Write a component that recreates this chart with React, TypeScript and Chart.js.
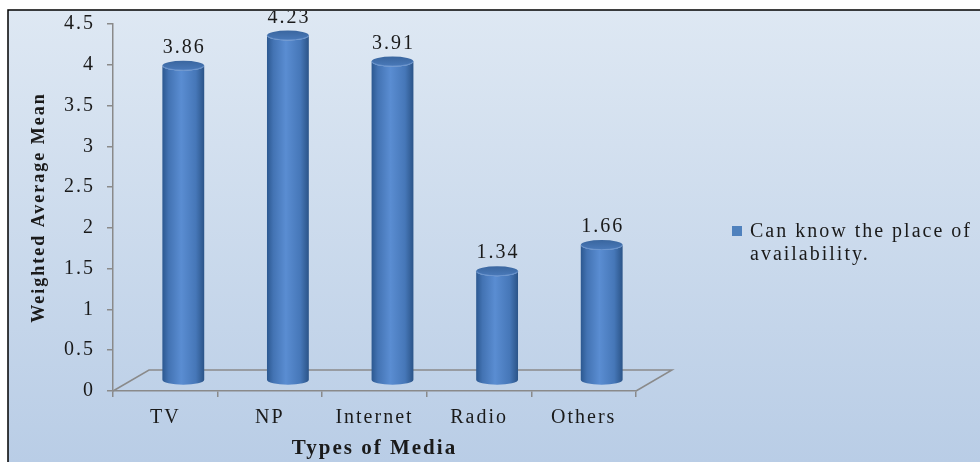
import { useEffect, useRef } from "react";
import { Chart, registerables } from "chart.js";

Chart.register(...registerables);

const categories = ["TV", "NP", "Internet", "Radio", "Others"];
const weightedMeans = [3.86, 4.23, 3.91, 1.34, 1.66];
const valueLabels = ["3.86", "4.23", "3.91", "1.34", "1.66"];
const legendLines = ["Can know the place of", "availability."];
const yTickLabels = ["0", "0.5", "1", "1.5", "2", "2.5", "3", "3.5", "4", "4.5"];
const xTitle = "Types of Media";
const yTitle = "Weighted Average Mean";

const SERIF = "'Liberation Serif', 'Times New Roman', serif";
const AXIS_GRAY = "#8a8a8a";
const TEXT = "#1a1a1a";
const DEPTH_X = 36;
const DEPTH_Y = 21;

const cylinderPlugin = {
  id: "cylinder3d",
  beforeDraw(chart: any) {
    const { ctx, width, height } = chart;
    ctx.save();
    const g = ctx.createLinearGradient(0, 10, 0, height);
    g.addColorStop(0, "#dee8f3");
    g.addColorStop(1, "#b9cde6");
    ctx.fillStyle = g;
    ctx.fillRect(8, 10, width - 8, height - 10);
    ctx.strokeStyle = "#000";
    ctx.lineWidth = 1.5;
    ctx.beginPath();
    ctx.moveTo(8, height);
    ctx.lineTo(8, 10);
    ctx.lineTo(width, 10);
    ctx.stroke();
    ctx.restore();
    ctx.save();
    ctx.beginPath();
    ctx.rect(9, 11, width - 9, height - 11);
    ctx.clip();
    ctx.letterSpacing = "2px";
  },
  afterDraw(chart: any) {
    chart.ctx.restore();
  },
  beforeDatasetsDraw(chart: any) {
    const { ctx, chartArea } = chart;
    const { left, right, bottom } = chartArea;
    ctx.save();
    ctx.strokeStyle = AXIS_GRAY;
    ctx.lineWidth = 1.5;
    ctx.beginPath();
    ctx.moveTo(left, bottom);
    ctx.lineTo(left + DEPTH_X, bottom - DEPTH_Y);
    ctx.lineTo(right + DEPTH_X, bottom - DEPTH_Y);
    ctx.lineTo(right, bottom);
    ctx.stroke();
    ctx.restore();
  },
  afterDatasetsDraw(chart: any) {
    const { ctx } = chart;
    const meta = chart.getDatasetMeta(0);
    const dx = DEPTH_X / 2;
    const dy = DEPTH_Y / 2;
    const ry = 5;
    meta.data.forEach((bar: any, i: number) => {
      const cx = bar.x + dx;
      const w = bar.width / 2;
      const ty = bar.y - dy;
      const by = bar.base - dy;
      ctx.save();
      const bg = ctx.createLinearGradient(cx - w, 0, cx + w, 0);
      bg.addColorStop(0, "#2c5890");
      bg.addColorStop(0.15, "#4373b3");
      bg.addColorStop(0.45, "#5a8dd2");
      bg.addColorStop(0.8, "#4677b8");
      bg.addColorStop(1, "#2b5488");
      ctx.fillStyle = bg;
      ctx.beginPath();
      ctx.moveTo(cx - w, ty);
      ctx.lineTo(cx - w, by);
      ctx.ellipse(cx, by, w, ry, 0, Math.PI, 0, true);
      ctx.lineTo(cx + w, ty);
      ctx.ellipse(cx, ty, w, ry, 0, 0, Math.PI, false);
      ctx.closePath();
      ctx.fill();
      const tg = ctx.createLinearGradient(0, ty - ry, 0, ty + ry);
      tg.addColorStop(0, "#3a669f");
      tg.addColorStop(1, "#4a7aba");
      ctx.fillStyle = tg;
      ctx.beginPath();
      ctx.ellipse(cx, ty, w, ry, 0, 0, Math.PI * 2);
      ctx.fill();
      ctx.strokeStyle = "rgba(120,160,215,0.7)";
      ctx.lineWidth = 1;
      ctx.beginPath();
      ctx.ellipse(cx, ty, w - 0.5, ry - 0.5, 0, 0, Math.PI, false);
      ctx.stroke();
      ctx.fillStyle = TEXT;
      ctx.font = `20px ${SERIF}`;
      ctx.textAlign = "center";
      ctx.textBaseline = "middle";
      ctx.fillText(valueLabels[i], cx + 1, ty - 18);
      ctx.restore();
    });
    ctx.save();
    ctx.fillStyle = "#4f81bd";
    ctx.fillRect(732, 226, 10, 10);
    ctx.fillStyle = TEXT;
    ctx.font = `20px ${SERIF}`;
    ctx.textAlign = "left";
    ctx.textBaseline = "middle";
    legendLines.forEach((t, k) => ctx.fillText(t, 750, 232 + k * 23));
    ctx.restore();
  },
};

export default function App() {
  const ref = useRef<HTMLCanvasElement | null>(null);
  useEffect(() => {
    if (!ref.current) return;
    const chart = new Chart(ref.current, {
      type: "bar",
      data: {
        labels: categories,
        datasets: [
          {
            label: legendLines.join(" "),
            data: weightedMeans,
            backgroundColor: "rgba(0,0,0,0)",
            borderWidth: 0,
            categoryPercentage: 0.8,
            barPercentage: 0.5,
          },
        ],
      },
      options: {
        animation: false,
        responsive: false,
        devicePixelRatio: 1,
        layout: { padding: { left: 0, top: 24, right: 344, bottom: 0 } },
        plugins: { legend: { display: false }, tooltip: { enabled: false } },
        scales: {
          x: {
            afterFit: (s: any) => {
              s.height = 71;
            },
            grid: {
              offset: true,
              drawOnChartArea: false,
              drawTicks: true,
              tickLength: 6,
              color: AXIS_GRAY,
              lineWidth: 1.5,
            },
            border: { display: true, color: AXIS_GRAY, width: 1.5 },
            ticks: {
              color: TEXT,
              font: { family: SERIF, size: 20 },
              padding: 9,
              maxRotation: 0,
            },
            title: {
              display: true,
              text: xTitle,
              color: TEXT,
              font: { family: SERIF, size: 21, weight: "bold" },
              padding: { top: 0, bottom: 1 },
            },
          },
          y: {
            min: 0,
            max: 4.5,
            afterFit: (s: any) => {
              s.width = 113;
            },
            afterBuildTicks: (s: any) => {
              s.ticks = yTickLabels.map((t) => ({ value: parseFloat(t) }));
            },
            grid: {
              drawOnChartArea: false,
              drawTicks: true,
              tickLength: 6,
              color: AXIS_GRAY,
              lineWidth: 1.5,
            },
            border: { display: true, color: AXIS_GRAY, width: 1.5 },
            ticks: {
              color: TEXT,
              font: { family: SERIF, size: 20 },
              padding: 12,
              callback: (_v: any, i: number) => yTickLabels[i],
            },
            title: {
              display: true,
              text: yTitle,
              color: TEXT,
              font: { family: SERIF, size: 18, weight: "bold" },
              padding: { top: 29, bottom: 0 },
            },
          },
        },
      },
      plugins: [cylinderPlugin],
    });
    return () => chart.destroy();
  }, []);
  return (
    <div style={{ position: "absolute", left: 0, top: 0, width: 980, height: 462 }}>
      <canvas ref={ref} width={980} height={462} style={{ display: "block" }} />
    </div>
  );
}
